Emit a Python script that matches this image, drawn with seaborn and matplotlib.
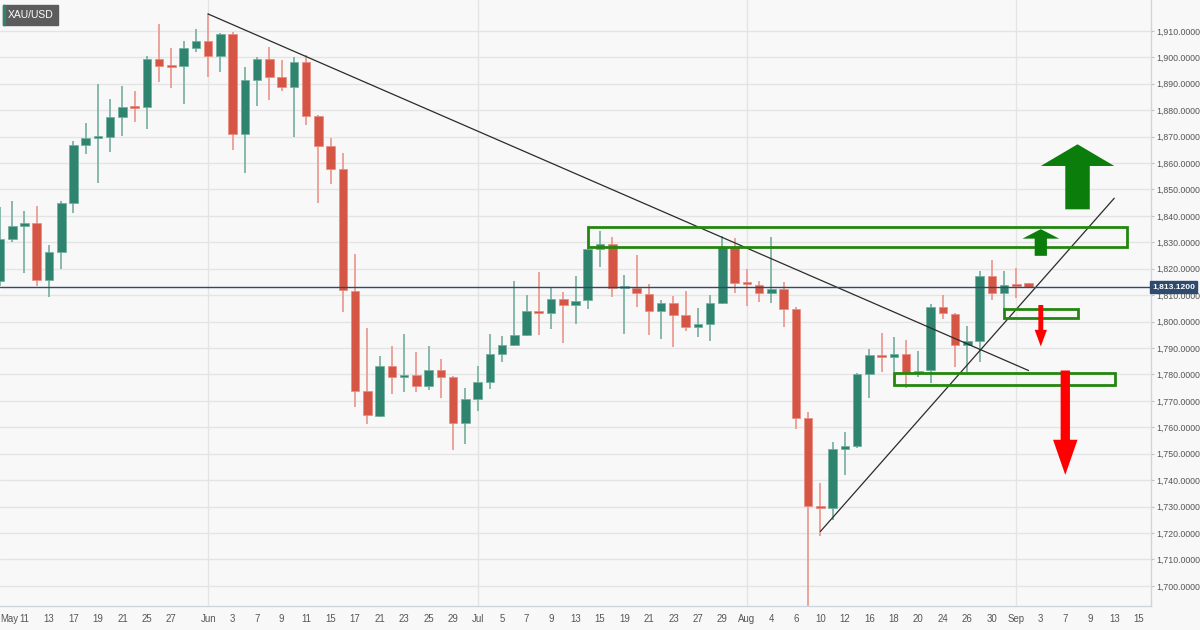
import pandas as pd
import numpy as np
import matplotlib
matplotlib.use("Agg")
import matplotlib.pyplot as plt
import seaborn as sns
from matplotlib.patches import Rectangle, Polygon
import matplotlib.transforms as mtransforms

# XAU/USD daily candles, 7 May - 2 Sep 2021
opens = [1815.4, 1831.4, 1836.0, 1837.5, 1815.8, 1826.4, 1844.8, 1866.7, 1869.5, 1869.8,
         1877.3, 1881.4, 1881.1, 1899.2, 1896.8, 1896.6, 1903.4, 1906.3, 1900.5, 1908.7,
         1870.9, 1891.5, 1899.2, 1892.7, 1888.8, 1898.3, 1877.8, 1866.4, 1857.7, 1811.6,
         1773.9, 1764.4, 1783.4, 1779.0, 1779.8, 1775.7, 1781.7, 1779.0, 1761.6, 1770.6,
         1777.1, 1787.9, 1791.3, 1795.0, 1803.8, 1803.2, 1808.6, 1806.3, 1808.0, 1827.4,
         1829.3, 1812.6, 1812.8, 1810.6, 1804.1, 1807.0, 1802.4, 1797.9, 1799.0, 1807.2,
         1828.4, 1814.5, 1814.0, 1810.8, 1812.3, 1804.7, 1763.4, 1730.3, 1729.4, 1751.9,
         1753.1, 1780.2, 1787.4, 1786.5, 1787.8, 1780.8, 1781.7, 1805.5, 1803.0, 1791.2,
         1792.8, 1817.3, 1810.8, 1813.9, 1814.5]
highs = [1843.5, 1845.6, 1842.0, 1843.8, 1828.9, 1845.8, 1868.5, 1875.1, 1889.9, 1884.1,
         1889.2, 1887.3, 1900.5, 1912.6, 1903.4, 1906.0, 1910.6, 1916.7, 1909.1, 1909.5,
         1896.3, 1900.0, 1903.8, 1899.0, 1900.0, 1900.9, 1878.2, 1869.4, 1863.7, 1825.5,
         1797.5, 1787.0, 1790.6, 1795.4, 1788.4, 1790.9, 1786.0, 1779.3, 1774.8, 1783.3,
         1795.4, 1794.6, 1815.4, 1809.9, 1818.6, 1812.6, 1811.4, 1817.4, 1827.8, 1834.3,
         1832.2, 1817.5, 1825.2, 1814.2, 1808.3, 1809.6, 1811.6, 1805.3, 1809.9, 1832.4,
         1831.6, 1819.8, 1815.4, 1832.2, 1815.1, 1805.7, 1765.8, 1738.9, 1754.6, 1758.4,
         1780.4, 1789.8, 1795.6, 1794.0, 1793.1, 1788.7, 1806.7, 1810.1, 1803.2, 1798.4,
         1819.3, 1823.4, 1819.3, 1820.2, 1814.8]
lows = [1813.3, 1830.3, 1818.3, 1813.6, 1809.2, 1820.1, 1841.0, 1863.3, 1852.6, 1864.1,
        1870.3, 1875.4, 1872.8, 1890.8, 1888.3, 1882.4, 1902.2, 1892.5, 1894.6, 1865.0,
        1856.1, 1881.6, 1883.9, 1887.2, 1870.0, 1874.4, 1845.0, 1852.0, 1803.8, 1767.6,
        1761.3, 1764.1, 1772.7, 1773.3, 1773.2, 1774.2, 1771.0, 1751.5, 1753.7, 1766.3,
        1774.5, 1784.9, 1790.6, 1794.4, 1794.8, 1797.1, 1791.8, 1799.1, 1804.7, 1820.6,
        1809.2, 1795.4, 1805.5, 1795.0, 1793.4, 1790.3, 1796.6, 1794.1, 1792.8, 1806.5,
        1810.8, 1806.0, 1807.6, 1807.0, 1798.1, 1759.3, 1687.8, 1718.7, 1725.0, 1742.0,
        1752.0, 1771.0, 1781.1, 1780.8, 1775.0, 1779.0, 1776.7, 1800.9, 1783.0, 1781.1,
        1784.9, 1808.0, 1804.4, 1808.9, 1813.0]
closes = [1831.4, 1836.0, 1837.5, 1815.8, 1826.3, 1844.7, 1866.7, 1869.4, 1869.9, 1877.3,
          1881.4, 1881.0, 1899.2, 1896.8, 1896.3, 1903.4, 1906.3, 1900.5, 1908.7, 1870.9,
          1891.5, 1899.2, 1892.7, 1888.8, 1898.3, 1877.8, 1866.4, 1857.7, 1812.0, 1773.9,
          1764.7, 1783.4, 1779.0, 1779.6, 1775.7, 1781.7, 1779.0, 1761.6, 1770.6, 1777.1,
          1787.9, 1791.3, 1795.0, 1803.9, 1803.2, 1808.6, 1806.3, 1807.9, 1827.4, 1829.3,
          1812.6, 1813.0, 1810.8, 1804.1, 1807.0, 1802.4, 1797.9, 1799.0, 1807.2, 1828.4,
          1814.5, 1814.2, 1811.0, 1812.3, 1804.7, 1763.7, 1730.3, 1729.4, 1751.8, 1753.0,
          1780.2, 1787.4, 1786.5, 1787.8, 1780.7, 1781.5, 1805.5, 1803.2, 1791.2, 1792.7,
          1817.3, 1810.8, 1813.9, 1813.5, 1813.1]

tick_dates = ["2021-05-07", "2021-05-11", "2021-05-13", "2021-05-17", "2021-05-19", "2021-05-21",
              "2021-05-25", "2021-05-27", "2021-06-01", "2021-06-03", "2021-06-07", "2021-06-09",
              "2021-06-11", "2021-06-15", "2021-06-17", "2021-06-21", "2021-06-23", "2021-06-25",
              "2021-06-29", "2021-07-01", "2021-07-05", "2021-07-07", "2021-07-09", "2021-07-13",
              "2021-07-15", "2021-07-19", "2021-07-21", "2021-07-23", "2021-07-27", "2021-07-29",
              "2021-08-02", "2021-08-04", "2021-08-06", "2021-08-10", "2021-08-12", "2021-08-16",
              "2021-08-18", "2021-08-20", "2021-08-24", "2021-08-26", "2021-08-30", "2021-09-01",
              "2021-09-03", "2021-09-07", "2021-09-09", "2021-09-13", "2021-09-15"]
tick_labels = ["May", "11", "13", "17", "19", "21", "25", "27", "Jun", "3", "7", "9", "11",
               "15", "17", "21", "23", "25", "29", "Jul", "5", "7", "9", "13", "15", "19",
               "21", "23", "27", "29", "Aug", "4", "6", "10", "12", "16", "18", "20", "24",
               "26", "30", "Sep", "3", "7", "9", "13", "15"]
month_starts = ["2021-06-01", "2021-07-01", "2021-08-02", "2021-09-01"]

last_price = 1813.12
# drawn annotations (dates / price levels)
resist_zone = ("2021-07-14", "2021-09-14", 1828.2, 1835.7)
pivot_zone = ("2021-08-31", "2021-09-08", 1801.5, 1804.8)
support_zone = ("2021-08-18", "2021-09-13", 1776.2, 1780.7)
down_trend = ("2021-06-01", 1916.4, "2021-09-02", 1781.5)
up_trend = ("2021-08-10", 1720.6, "2021-09-13", 1846.7)

# colours
up_col, down_col = "#2f8470", "#d65646"
up_wick, down_wick = "#86b9ab", "#eba39b"
zone_col = "#23860f"
arrow_green = "#0a7d0a"
arrow_red = "#ff0000"

sns.set_theme(style="white")
plt.rcParams["font.family"] = ["Liberation Sans Narrow", "Liberation Sans", "DejaVu Sans"]

cal = pd.bdate_range("2021-05-07", "2021-09-17")
def pos(d):
    return cal.get_loc(pd.Timestamp(d))

df = pd.DataFrame({"date": cal[:len(opens)], "open": opens, "high": highs,
                   "low": lows, "close": closes})
df["x"] = np.arange(len(df))
df["up"] = df["close"] >= df["open"]
df["bottom"] = df[["open", "close"]].min(axis=1)
df["height"] = (df["close"] - df["open"]).abs().clip(lower=0.7)

bg = "#f8f8f8"
fig = plt.figure(figsize=(12, 6.3), dpi=100, facecolor=bg)
ax = fig.add_axes([0, 24 / 630, 1151 / 1200, 606 / 630])
ax.set_facecolor(bg)

# grid
yticks = np.arange(1700, 1911, 10)
for v in yticks:
    ax.axhline(v, color="#e4e4e4", lw=1, zorder=0)
for d in month_starts:
    ax.axvline(pos(d), color="#e4e4e4", lw=1, zorder=0)

# candles
ax.vlines(df["x"], df["low"], df["high"],
          colors=np.where(df["up"], up_wick, down_wick), lw=1.4, zorder=2)
ax.bar(df["x"], df["height"], bottom=df["bottom"], width=0.7,
       color=np.where(df["up"], up_col, down_col),
       edgecolor=np.where(df["up"], "#6fae9d", "#e98a7f"), lw=0.5, zorder=2)

# trend lines
for d0, p0, d1, p1 in [down_trend, up_trend]:
    ax.plot([pos(d0), pos(d1)], [p0, p1], color="#2b2b2b", lw=0.9, zorder=3)

# last price line
ax.axhline(last_price, color="#2e4a6d", lw=1, zorder=3)

# zones
for d0, d1, lo, hi in [resist_zone, pivot_zone, support_zone]:
    ax.add_patch(Rectangle((pos(d0), lo), pos(d1) - pos(d0) + 0.05, hi - lo,
                           fill=False, edgecolor=zone_col, lw=2, zorder=4))

def arrow(xc, tail, base, tip, half_shaft, half_head, color):
    pts = [(xc - half_shaft, tail), (xc - half_shaft, base), (xc - half_head, base),
           (xc, tip), (xc + half_head, base), (xc + half_shaft, base), (xc + half_shaft, tail)]
    ax.add_patch(Polygon(pts, closed=True, color=color, lw=0, zorder=5))

arrow(pos("2021-09-08"), 1842.5, 1858.9, 1867.1, 1.0, 3.0, arrow_green)
arrow(pos("2021-09-03"), 1824.9, 1831.4, 1835.0, 0.5, 1.5, arrow_green)
arrow(pos("2021-09-03"), 1806.3, 1796.9, 1790.6, 0.2, 0.5, arrow_red)
arrow(pos("2021-09-07"), 1781.5, 1755.3, 1742.0, 0.38, 1.0, arrow_red)

# axes
ax.set_xlim(0, 94.0)
ax.set_ylim(1692.4, 1921.7)
ax.yaxis.tick_right()
ax.set_yticks(yticks)
ax.set_yticklabels([f"{v:,.4f}" for v in yticks])
ax.set_xticks([pos(d) for d in tick_dates])
ax.set_xticklabels(tick_labels)
ax.tick_params(axis="x", colors="#b9c2cf", labelcolor="#555555", labelsize=6.9,
               length=3, width=0.8, pad=3)
ax.tick_params(axis="y", colors="#b9c2cf", labelcolor="#555555", labelsize=6.3,
               length=2.5, width=0.8, pad=1)
ax.get_xticklabels()[0].set_ha("left")
for s in ["left", "top"]:
    ax.spines[s].set_visible(False)
for s in ["right", "bottom"]:
    ax.spines[s].set_color("#cdd5e0")
    ax.spines[s].set_linewidth(1)

# last price tag
trans = mtransforms.blended_transform_factory(ax.transAxes, ax.transData)
ax.text(1.001, last_price, f"{last_price:,.4f}", transform=trans, ha="left", va="center",
        fontsize=6.1, color="white", fontweight="bold", zorder=6, clip_on=False,
        bbox=dict(boxstyle="square,pad=0.25", fc="#2e4a6d", ec="#2e4a6d"))

# symbol tag
fig.patches.append(Rectangle((3 / 1200, 1 - 25 / 630), 55 / 1200, 20 / 630,
                             transform=fig.transFigure, color="#5c5c5c", zorder=6))
fig.patches.append(Rectangle((3 / 1200, 1 - 25 / 630), 1.5 / 1200, 20 / 630,
                             transform=fig.transFigure, color=up_col, zorder=7))
fig.text(31 / 1200, 1 - 15 / 630, "XAU/USD", color="white", fontsize=7.5,
         ha="center", va="center", zorder=8)

fig.savefig("out.png", dpi=100, facecolor=bg)
